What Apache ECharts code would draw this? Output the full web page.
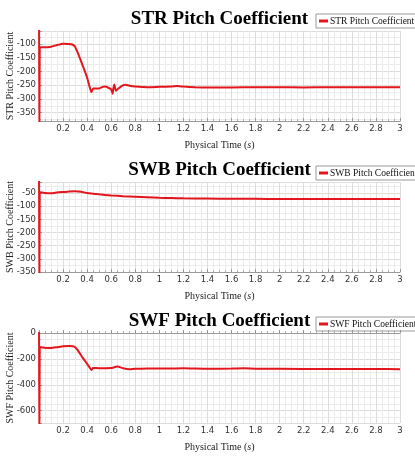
<!DOCTYPE html>
<html>
<head>
<meta charset="utf-8">
<script src="https://cdn.jsdelivr.net/npm/echarts@6/dist/echarts.min.js"></script>
<style>
  html, body { margin: 0; padding: 0; background: #fff; }
  #chart { width: 415px; height: 458px; }
</style>
</head>
<body>
<div id="chart"></div>
<script>
// Pitch coefficient histories for the three components (time in s)
const strTime = [0, 0.003, 0.006, 0.05, 0.1, 0.15, 0.2, 0.25, 0.28, 0.3, 0.32, 0.34, 0.36, 0.38, 0.4, 0.42, 0.435, 0.45, 0.5, 0.53, 0.55, 0.58, 0.6, 0.612, 0.618, 0.625, 0.64, 0.66, 0.7, 0.72, 0.76, 0.8, 0.9, 1.0, 1.1, 1.15, 1.2, 1.3, 1.4, 1.6, 1.8, 2.0, 2.2, 2.4, 2.6, 2.8, 3.0];
const strValues = [150, -600, -111, -112, -110, -104, -99, -100, -103, -110, -130, -152, -175, -198, -223, -255, -275, -262, -262, -256, -255, -260, -265, -281, -262, -247, -270, -262, -250, -248, -253, -255, -257, -256, -255, -253, -255, -257, -258, -258, -257, -257, -258, -257, -257, -257, -257];

const swbTime = [0, 0.003, 0.006, 0.05, 0.1, 0.15, 0.2, 0.25, 0.3, 0.35, 0.4, 0.5, 0.6, 0.7, 0.8, 0.9, 1.0, 1.1, 1.2, 1.4, 1.6, 1.8, 2.0, 2.4, 2.8, 3.0];
const swbValues = [150, -600, -47, -50, -51, -48, -46, -44, -43, -45, -50, -55, -59, -62, -64, -66, -68, -69, -70, -71, -72, -72, -73, -73, -73, -73];

const swfTime = [0, 0.003, 0.006, 0.05, 0.1, 0.15, 0.2, 0.25, 0.28, 0.3, 0.32, 0.34, 0.36, 0.38, 0.4, 0.42, 0.435, 0.45, 0.5, 0.55, 0.6, 0.65, 0.7, 0.75, 0.8, 0.9, 1.0, 1.1, 1.2, 1.4, 1.6, 1.7, 1.8, 2.0, 2.4, 2.8, 3.0];
const swfValues = [300, -1200, -109, -113, -116, -110, -103, -101, -103, -110, -130, -158, -187, -213, -239, -265, -285, -270, -272, -272, -271, -259, -272, -279, -276, -275, -275, -274, -272, -276, -275, -273, -276, -277, -278, -278, -279];

const seriesNames = ['STR Pitch Coefficient', 'SWB Pitch Coefficient', 'SWF Pitch Coefficient'];
const xTickLabels = ['0.2', '0.4', '0.6', '0.8', '1', '1.2', '1.4', '1.6', '1.8', '2', '2.2', '2.4', '2.6', '2.8', '3'];
const yRanges = [[-380, -53], [-350, -8], [-695, 0]];
const yIntervals = [50, 50, 200];
const yMinorSplits = [2, 2, 4];

const pairs = (t, v) => t.map((x, i) => [x, v[i]]);
const seriesData = [pairs(strTime, strValues), pairs(swbTime, swbValues), pairs(swfTime, swfValues)];

const SERIF = '"Liberation Serif", "DejaVu Serif", serif';
const SANS = '"DejaVu Sans", sans-serif';
const RED = '#e3161e';
const GRID_TOPS = [31, 182, 333];
const TITLE_TOPS = [10, 161, 312];
const LEGEND_TOPS = [14, 166, 317];

const option = {
  animation: false,
  backgroundColor: '#fff',
  title: seriesNames.map((n, i) => ({
    text: n,
    left: 219.5,
    textAlign: 'center',
    top: TITLE_TOPS[i],
    padding: 0,
    textStyle: { fontFamily: SERIF, fontWeight: 'bold', fontSize: 19, color: '#000' }
  })),
  legend: seriesNames.map((n, i) => ({
    data: [n],
    left: 316,
    top: LEGEND_TOPS[i],
    padding: [2, 3, 2, 3],
    borderColor: '#9a9a9a',
    borderWidth: 1,
    itemWidth: 9,
    itemHeight: 3,
    itemGap: 0,
    icon: 'rect',
    textStyle: { fontFamily: SERIF, fontSize: 9.5, color: '#111', padding: [0, 0, 0, -3] }
  })),
  grid: GRID_TOPS.map(t => ({ left: 39, right: 15, top: t, height: 90, containLabel: false, outerBoundsMode: 'none' })),
  xAxis: GRID_TOPS.map((t, i) => ({
    type: 'value',
    gridIndex: i,
    min: 0,
    max: 3,
    interval: 0.2,
    name: 'Physical Time ({i|s})',
    nameLocation: 'middle',
    nameGap: 19,
    nameMoveOverlap: false,
    nameTextStyle: { fontFamily: SERIF, fontSize: 10, color: '#222', rich: { i: { fontStyle: 'italic', fontFamily: SERIF, fontSize: 10, color: '#222' } } },
    axisLine: { show: true, lineStyle: { color: '#9a9a9a', width: 1 } },
    axisTick: { show: true, inside: true, length: 3, lineStyle: { color: '#9a9a9a' } },
    minorTick: { show: true, splitNumber: 4, length: 2, lineStyle: { color: '#b0b0b0' } },
    axisLabel: {
      showMinLabel: false,
      margin: 3,
      fontFamily: SANS,
      fontSize: 8.5,
      color: '#333',
      formatter: v => {
        const s = String(Math.round(v * 10) / 10);
        return xTickLabels.indexOf(s) >= 0 ? s : '';
      }
    },
    splitLine: { show: true, lineStyle: { color: '#dcdcdc', width: 1 } },
    minorSplitLine: { show: true, lineStyle: { color: '#ececec', width: 1 } }
  })),
  yAxis: GRID_TOPS.map((t, i) => ({
    type: 'value',
    gridIndex: i,
    min: yRanges[i][0],
    max: yRanges[i][1],
    minInterval: yIntervals[i],
    maxInterval: yIntervals[i],
    name: seriesNames[i],
    nameLocation: 'middle',
    nameGap: 24,
    nameMoveOverlap: false,
    nameTextStyle: { fontFamily: SERIF, fontSize: 10, color: '#222' },
    axisLine: { show: true, lineStyle: { color: '#9a9a9a', width: 1 } },
    axisTick: { show: true, inside: true, length: 3, lineStyle: { color: '#9a9a9a' } },
    minorTick: { show: true, splitNumber: yMinorSplits[i], length: 2, lineStyle: { color: '#b0b0b0' } },
    axisLabel: {
      showMinLabel: i === 1,
      showMaxLabel: i === 2,
      margin: 3,
      fontFamily: SANS,
      fontSize: 8.5,
      color: '#333'
    },
    splitLine: { show: true, lineStyle: { color: '#dcdcdc', width: 1 } },
    minorSplitLine: { show: true, lineStyle: { color: '#ececec', width: 1 } }
  })),
  series: seriesNames.map((n, i) => ({
    name: n,
    type: 'line',
    xAxisIndex: i,
    yAxisIndex: i,
    data: seriesData[i],
    showSymbol: false,
    clip: true,
    smooth: 0.15,
    color: RED,
    lineStyle: { color: RED, width: 2 }
  }))
};

const chart = echarts.init(document.getElementById('chart'), null, { renderer: 'canvas' });
chart.setOption(option);
</script>
</body>
</html>
